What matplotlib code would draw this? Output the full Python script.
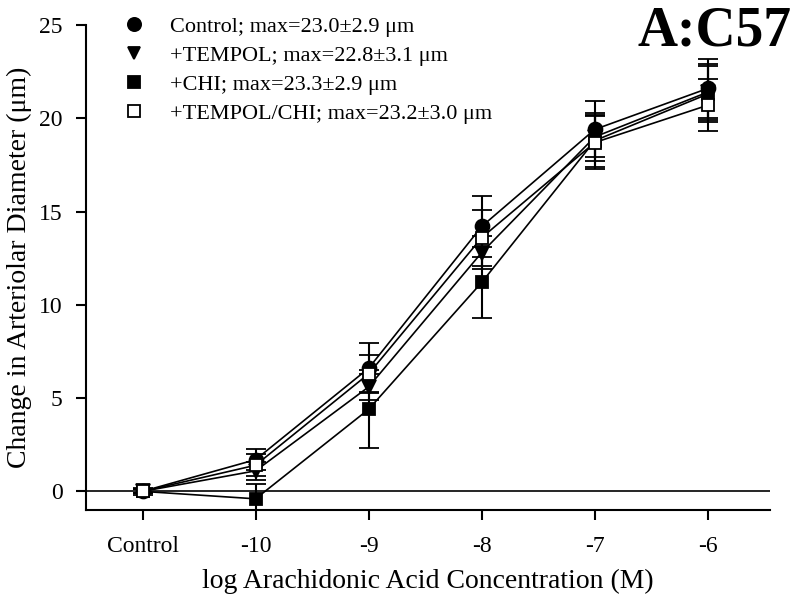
import matplotlib
matplotlib.use("Agg")
import matplotlib.pyplot as plt
from matplotlib.lines import Line2D

plt.rcParams['font.family'] = ['Liberation Serif', 'DejaVu Serif']

categories = ["Control", "-10", "-9", "-8", "-7", "-6"]
series_names = ["Control; max=23.0\u00b12.9 \u03bcm",
                "+TEMPOL; max=22.8\u00b13.1 \u03bcm",
                "+CHI; max=23.3\u00b12.9 \u03bcm",
                "+TEMPOL/CHI; max=23.2\u00b13.0 \u03bcm"]
control = [0.0, 1.7, 6.6, 14.2, 19.4, 21.6]
control_err = [0.2, 0.55, 1.35, 1.65, 1.5, 1.6]
tempol = [0.0, 1.1, 5.6, 12.8, 19.0, 21.4]
tempol_err = [0.1, 0.5, 0.7, 0.9, 1.3, 1.5]
chi = [0.0, -0.4, 4.4, 11.2, 18.8, 21.3]
chi_err = [0.1, 0.8, 2.1, 1.9, 1.4, 1.5]
tempol_chi = [0.0, 1.4, 6.3, 13.6, 18.7, 20.7]
tempol_chi_err = [0.1, 0.6, 1.0, 1.5, 1.4, 1.4]
yticks = [0, 5, 10, 15, 20, 25]

fig = plt.figure(figsize=(8.0, 6.05), dpi=100)
ax = fig.add_axes([0.1075, 0.157, 0.855, 0.8017])

x = list(range(len(categories)))
styles = [
    (control, control_err, 'o', 'black', 10),
    (tempol, tempol_err, 'v', 'black', 9.5),
    (chi, chi_err, 's', 'black', 9),
    (tempol_chi, tempol_chi_err, 's', 'white', 9),
]
ax.axhline(0, color='black', lw=1.2, zorder=1)
handles = []
for i, (vals, errs, m, fc, ms) in enumerate(styles):
    ax.errorbar(x, vals, yerr=errs, color='black', lw=1.2, marker=m,
                markersize=ms, markerfacecolor=fc, markeredgecolor='black',
                markeredgewidth=1.3, capsize=7, capthick=1.5, elinewidth=1.5,
                zorder=3 + i)
    handles.append(Line2D([], [], linestyle='none', marker=m, markersize=ms - 0.5,
                          markerfacecolor=fc, markeredgecolor='black',
                          markeredgewidth=1.3, label=series_names[i]))

ax.set_xlim(-0.5, 5.55)
ax.set_ylim(-1, 25)
ax.set_xticks(x)
ax.set_xticklabels(categories)
ax.set_yticks(yticks)
ax.tick_params(axis='both', labelsize=17, length=7, width=1.5, direction='out')
ax.tick_params(axis='x', pad=12)
ax.tick_params(axis='y', pad=10)
ax.spines['top'].set_visible(False)
ax.spines['right'].set_visible(False)
ax.spines['left'].set_linewidth(1.5)
ax.spines['bottom'].set_linewidth(1.5)
ax.set_xlabel("log Arachidonic Acid Concentration (M)", fontsize=20, labelpad=8)
ax.set_ylabel("Change in Arteriolar Diameter (\u03bcm)", fontsize=20, labelpad=5)

ax.legend(handles=handles, loc='upper left', bbox_to_anchor=(0.035, 1.045),
          frameon=False, fontsize=16, handlelength=1.0, handletextpad=1.1,
          labelspacing=0.38, borderaxespad=0.2)

fig.text(0.99, 1 - 45 / 605, "A:C57", ha='right', va='baseline', fontsize=40,
         fontweight='bold')

fig.savefig("out.png", dpi=100)
